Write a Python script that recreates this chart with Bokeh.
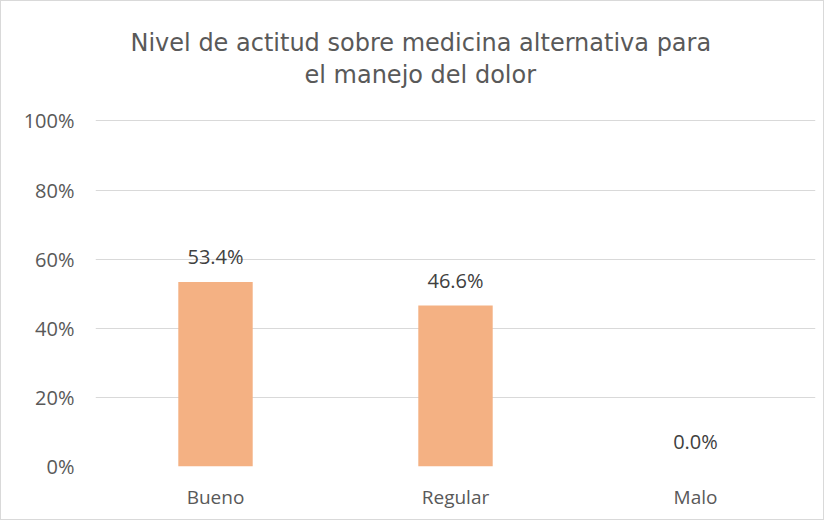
from bokeh.plotting import figure
from bokeh.models import ColumnDataSource, LabelSet, NumeralTickFormatter, FixedTicker, Range1d, Title
from bokeh.core.properties import value
from bokeh.embed import file_html
from bokeh.resources import INLINE

categories = ["Bueno", "Regular", "Malo"]
values = [0.534, 0.466, 0.0]
labels = ["53.4%", "46.6%", "0.0%"]
y_ticks = [0, 0.2, 0.4, 0.6, 0.8, 1.0]
title_lines = ["Nivel de actitud sobre medicina alternativa para", "el manejo del dolor"]

src = ColumnDataSource(dict(cat=categories, val=values, lab=labels))

p = figure(x_range=categories, y_range=Range1d(0, 1.004), width=824, height=520,
           output_backend="svg", toolbar_location=None,
           min_border_left=94, min_border_right=10, min_border_top=118, min_border_bottom=55)

def style_title(t, standoff, offset):
    t.align = "left"
    t.offset = offset
    t.text_font = "DejaVu Sans"
    t.text_font_style = "normal"
    t.text_font_size = "24px"
    t.text_color = "#595959"
    t.standoff = standoff

p.title.text = title_lines[0]
style_title(p.title, 2, 35)
spacer = Title(text=" ")
style_title(spacer, 0, 0)
p.add_layout(spacer, "above")
t2 = Title(text=title_lines[1])
style_title(t2, 2, 209)
p.add_layout(t2, "above")

p.vbar(x="cat", top="val", width=0.31, source=src, fill_color="#F4B183", line_color=None)

lbl = LabelSet(x="cat", y="val", text="lab", source=src, y_offset=25,
               text_align="center", text_baseline="middle", text_font=value("Open Sans"),
               text_font_size="20px", text_color="#404040")
p.add_layout(lbl)

p.yaxis.ticker = FixedTicker(ticks=y_ticks)
p.yaxis.formatter = NumeralTickFormatter(format="0%")
for ax in (p.xaxis[0], p.yaxis[0]):
    ax.axis_line_color = None
    ax.major_tick_line_color = None
    ax.minor_tick_line_color = None
    ax.major_label_text_font = "Open Sans"
    ax.major_label_text_color = "#595959"
p.xaxis.major_label_text_font_size = "19px"
p.yaxis.major_label_text_font_size = "20px"
p.yaxis.major_label_standoff = 15
p.xaxis.major_label_standoff = 11

p.xgrid.grid_line_color = None
p.ygrid.grid_line_color = "#D9D9D9"
p.ygrid.grid_line_width = 1

p.outline_line_color = None
p.border_fill_color = "white"
p.background_fill_color = "white"
p.styles = {"border": "1px solid #D9D9D9"}

open("out.html", "w").write(file_html(p, INLINE))
